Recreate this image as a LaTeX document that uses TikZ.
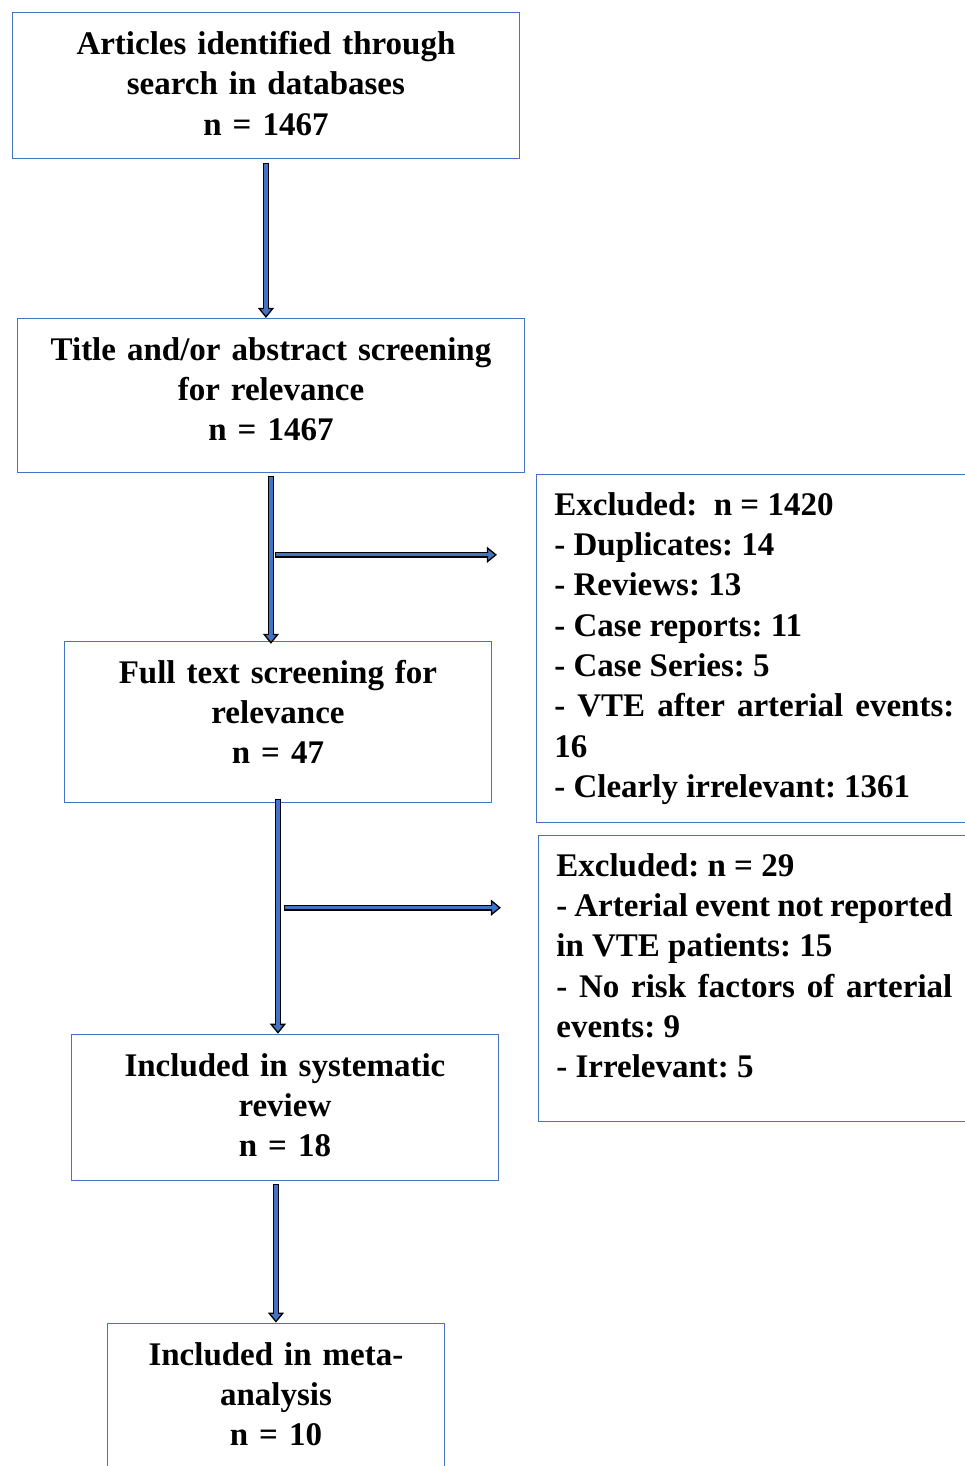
\documentclass[tikz,border=0pt]{standalone}
\usepackage{fontspec}
\setmainfont{Liberation Serif}
\usetikzlibrary{arrows.meta, positioning}
\definecolor{boxblue}{HTML}{4472C4}
\hyphenpenalty=10000
\exhyphenpenalty=10000
\frenchspacing

\begin{document}
\begin{tikzpicture}[x=1pt,y=1pt,
  box/.style={draw=boxblue,line width=0.9pt,inner sep=0pt,align=center,text height=42pt,
    font=\fontsize{33}{40.3}\selectfont\bfseries},
  exbox/.style={box,align=justify,inner xsep=18pt,text height=41pt},
  flow/.style={draw=black,line width=6pt,
    -{Triangle[length=10pt,width=16pt,line width=1.3pt,color=black,fill=boxblue]},
    postaction={draw=boxblue,line width=3.2pt,-,shorten >=8pt,shorten <=1.3pt}}]
  \useasboundingbox (0,0) rectangle (965,-1466);
  \node[box,text width=507pt,text depth=104pt,anchor=north west] (1) at (12,-12)
    {Articles identified through\\search in databases\\n = 1467};
  \node[box,text width=507pt,text depth=112pt] (2) [below=159pt of 1,xshift=5pt]
    {Title and/or abstract screening\\for relevance\\n = 1467};
  \node[box,text width=427pt,text depth=119pt] (3) [below=168pt of 2,xshift=7pt]
    {Full text screening for\\relevance\\n = 47};
  \node[box,text width=427pt,text depth=104pt] (4) [below=231pt of 3,xshift=7pt]
    {Included in systematic\\review\\n = 18};
  \node[box,text width=337pt,text depth=120pt] (5) [below=142pt of 4,xshift=-9pt]
    {Included in meta-\\analysis\\n = 10};
  \node[exbox,text width=400pt,text depth=307pt] (x1) [below right=1pt and 11pt of 2.south east]
    {Excluded:\ \ n = 1420\\- Duplicates: 14\\- Reviews: 13\\- Case reports: 11\\- Case Series: 5\\
     - VTE after arterial events: 16\\- Clearly irrelevant: 1361\\};
  \node[exbox,text width=396pt,text depth=245pt] (x2) [below right=12pt and 2pt of x1.south west]
    {Excluded: n = 29\\- Arterial event not reported in VTE patients: 15\\
     - No risk factors of arterial events: 9\\- Irrelevant: 5\\};
  \coordinate (f1) at ([xshift=4pt,yshift=-82pt]2.south);
  \coordinate (f2) at ([xshift=6pt,yshift=-105pt]3.south);
  \draw[flow] ([yshift=-4pt]1.south) -- (1.south |- 2.north);
  \draw[flow] ([yshift=-3pt]2.south) -- ([yshift=-3pt]2.south |- 3.north);
  \draw[flow] ([yshift=4pt]3.south) -- (3.south |- 4.north);
  \draw[flow] ([yshift=-3pt]4.south -| 5.north) -- (5.north);
  \draw[flow] (f1) -- ([xshift=-39pt]x1.west |- f1);
  \draw[flow] (f2) -- ([xshift=-37pt]x2.west |- f2);
\end{tikzpicture}
\end{document}
